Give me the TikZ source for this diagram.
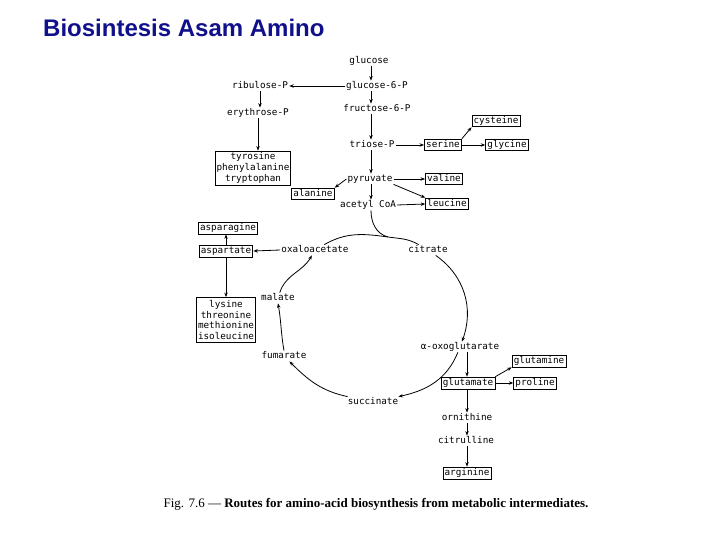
\documentclass[tikz,border=0pt]{standalone}
\usepackage{fontspec}
\setmainfont{Liberation Serif}
\newfontfamily\diagf{DejaVu Sans Mono}
\newfontfamily\titlef{Liberation Sans}
\usetikzlibrary{arrows.meta}
\definecolor{titleblue}{RGB}{16,16,140}
\begin{document}
\begin{tikzpicture}[x=1pt,y=1pt,
  lbl/.style={font=\diagf\fontsize{9.3}{10.6}\selectfont, inner sep=1pt, text height=6.5pt, text depth=1.9pt},
  box/.style={lbl, draw, line width=0.8pt, inner sep=1.7pt},
  mbox/.style={draw, line width=0.8pt, font=\diagf\fontsize{9.3}{10.6}\selectfont, align=center, inner sep=1.5pt},
  arr/.style={line width=0.8pt, -{Stealth[length=4.5pt,width=3.4pt]}},
  ln/.style={line width=0.8pt}]
\useasboundingbox (0,0) rectangle (720,-540);

% title and caption
\node[anchor=base west, font=\titlef\bfseries\fontsize{24}{27}\selectfont, text=titleblue, inner sep=0] (title) at (43,-37) {Biosintesis Asam Amino};
\node[anchor=base, inner sep=0, font=\fontsize{13}{15}\selectfont] (cap) at (376,-507) {Fig. 7.6 --- \textbf{Routes for amino-acid biosynthesis from metabolic intermediates.}};

% nodes
\node[lbl] (glucose) at (369,-61) {glucose};
\node[lbl] (g6p) at (377,-86) {glucose-6-P};
\node[lbl] (ribulose) at (260,-86) {ribulose-P};
\node[lbl] (erythrose) at (258,-113) {erythrose-P};
\node[lbl] (f6p) at (377,-109) {fructose-6-P};
\node[mbox, minimum width=71pt, minimum height=34pt] (tyr) at (253,-168) {tyrosine\\phenylalanine\\tryptophan};
\node[lbl] (triose) at (372,-145) {triose-P};
\node[box] (serine) at (443,-145) {serine};
\node[box] (cysteine) at (496,-121) {cysteine};
\node[box] (glycine) at (507,-145) {glycine};
\node[lbl] (pyruvate) at (370,-179) {pyruvate};
\node[box] (valine) at (444,-179) {valine};
\node[box] (alanine) at (313,-194) {alanine};
\node[lbl] (acetyl) at (368,-205) {acetyl CoA};
\node[box] (leucine) at (447,-204) {leucine};
\node[box] (asparagine) at (228,-228) {asparagine};
\node[box] (aspartate) at (226,-251) {aspartate};
\node[lbl] (oaa) at (315,-250) {oxaloacetate};
\node[lbl] (citrate) at (428,-250) {citrate};
\node[lbl] (malate) at (278,-298) {malate};
\node[mbox, minimum width=56pt, minimum height=45pt] (lysine) at (226,-320) {lysine\\threonine\\methionine\\isoleucine};
\node[lbl] (fumarate) at (284,-356) {fumarate};
\node[lbl] (akg) at (460,-347) {α-oxoglutarate};
\node[box] (glutamine) at (539,-361) {glutamine};
\node[box] (glutamate) at (468,-383) {glutamate};
\node[box] (proline) at (535,-383) {proline};
\node[lbl] (succinate) at (373,-402) {succinate};
\node[lbl] (ornithine) at (467,-418) {ornithine};
\node[lbl] (citrulline) at (466,-441) {citrulline};
\node[box] (arginine) at (467,-473) {arginine};

\coordinate (sp) at (371,0);
\coordinate (rc) at (467,0);
\coordinate (join) at (388,-237);

% glycolysis spine
\draw[arr] (sp|-glucose.south) -- (sp|-g6p.north);
\draw[arr] (g6p.west) -- (ribulose.east);
\draw[arr] (sp|-g6p.south) -- (sp|-f6p.north);
\draw[arr] (ribulose.south) -- (ribulose.south|-erythrose.north);
\draw[arr] (erythrose.south) -- (erythrose.south|-tyr.north);
\draw[arr] (sp|-f6p.south) -- (sp|-triose.north);
\draw[arr] (triose.east) -- (serine.west);
\draw[arr] (serine.north east) -- (cysteine.south west);
\draw[arr] (serine.east) -- (glycine.west);
\draw[arr] (sp|-triose.south) -- (sp|-pyruvate.north);
\draw[arr] (pyruvate.east) -- (valine.west);
\draw[arr] (pyruvate.west) -- (alanine.north east);
\draw[arr] (pyruvate.south east) -- (leucine.north west);
\draw[arr] (acetyl.east) -- (leucine.west);
\draw[arr] (sp|-pyruvate.south) -- (sp|-acetyl.north);
\draw[ln] (sp|-acetyl.south) to[out=-90,in=165] (join);

% citric acid cycle
\draw[ln] (oaa) to[out=30,in=172] (join) to[out=-8,in=150] (citrate);
\draw[arr] (citrate) to[out=-35,in=70] (akg);
\draw[arr] (akg) to[out=-112,in=12] (succinate);
\draw[arr] (succinate) to[out=168,in=-45] (fumarate);
\draw[arr] (fumarate.north) to[out=100,in=-80] (malate.south);
\draw[arr] (malate) to[out=72,in=-120] (oaa);

% aspartate family
\draw[arr] (oaa.west) -- (aspartate.east);
\draw[arr] (aspartate.north) -- (aspartate.north|-asparagine.south);
\draw[arr] (aspartate.south) -- (aspartate.south|-lysine.north);

% glutamate family
\draw[arr] (rc|-akg.south) -- (rc|-glutamate.north);
\draw[arr] (glutamate.north east) -- (glutamine.south west);
\draw[arr] (glutamate.east) -- (proline.west);
\draw[arr] (rc|-glutamate.south) -- (rc|-ornithine.north);
\draw[arr] (rc|-ornithine.south) -- (rc|-citrulline.north);
\draw[arr] (rc|-citrulline.south) -- (rc|-arginine.north);
\end{tikzpicture}
\end{document}
